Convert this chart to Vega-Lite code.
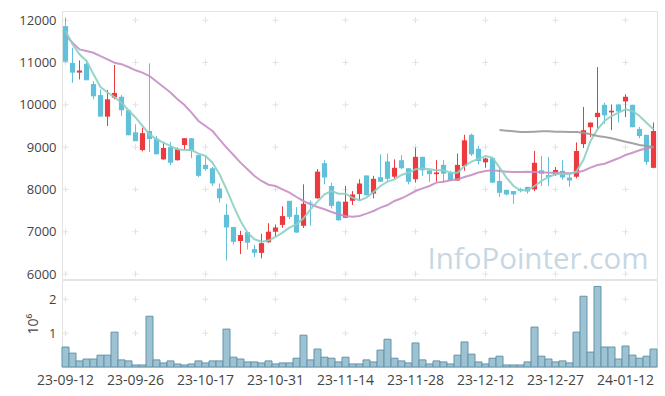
{
  "$schema": "https://vega.github.io/schema/vega-lite/v6.json",
  "padding": {"left": 18, "top": 10, "right": 9, "bottom": 5},
  "bounds": "flush",
  "config": {
    "font": "Open Sans",
    "view": {"stroke": "#e3e3e3"},
    "axis": {"labelColor": "#444", "labelFontSize": 13, "ticks": false, "domain": false, "grid": false, "titleColor": "#444"}
  },
  "datasets": {
    "stock": [
      {"date":"23-09-12","open":11860,"high":12060,"low":11000,"close":11020,"volume":590000,"ma5":11745,"ma20":11650,"ma60":null},
      {"date":"23-09-13","open":10990,"high":11350,"low":10520,"close":10760,"volume":410000,"ma5":11430,"ma20":11470,"ma60":null},
      {"date":"23-09-14","open":10760,"high":11050,"low":10600,"close":10810,"volume":180000,"ma5":11195,"ma20":11310,"ma60":null},
      {"date":"23-09-15","open":10970,"high":11060,"low":10580,"close":10580,"volume":235000,"ma5":11036,"ma20":11270,"ma60":null},
      {"date":"23-09-18","open":10490,"high":10560,"low":10130,"close":10200,"volume":235000,"ma5":10720,"ma20":11230,"ma60":null},
      {"date":"23-09-19","open":10230,"high":10360,"low":9720,"close":9720,"volume":350000,"ma5":10420,"ma20":11150,"ma60":null},
      {"date":"23-09-20","open":9720,"high":10350,"low":9500,"close":10130,"volume":350000,"ma5":10290,"ma20":11075,"ma60":null},
      {"date":"23-09-21","open":10170,"high":10940,"low":10130,"close":10280,"volume":1030000,"ma5":10185,"ma20":10995,"ma60":null},
      {"date":"23-09-22","open":10190,"high":10230,"low":9740,"close":9870,"volume":210000,"ma5":10050,"ma20":10960,"ma60":null},
      {"date":"23-09-25","open":9870,"high":9880,"low":9280,"close":9280,"volume":180000,"ma5":9870,"ma20":10893,"ma60":null},
      {"date":"23-09-26","open":9350,"high":9540,"low":9140,"close":9140,"volume":60000,"ma5":9700,"ma20":10815,"ma60":null},
      {"date":"23-09-27","open":8930,"high":9460,"low":8900,"close":9330,"volume":60000,"ma5":9500,"ma20":10760,"ma60":null},
      {"date":"23-10-04","open":9380,"high":10980,"low":8880,"close":9190,"volume":1500000,"ma5":9300,"ma20":10680,"ma60":null},
      {"date":"23-10-05","open":9200,"high":9260,"low":8830,"close":8830,"volume":210000,"ma5":9185,"ma20":10550,"ma60":null},
      {"date":"23-10-06","open":8710,"high":9100,"low":8700,"close":8980,"volume":120000,"ma5":9105,"ma20":10420,"ma60":null},
      {"date":"23-10-10","open":9000,"high":9120,"low":8570,"close":8630,"volume":180000,"ma5":9025,"ma20":10290,"ma60":null},
      {"date":"23-10-11","open":8690,"high":8990,"low":8680,"close":8950,"volume":90000,"ma5":8950,"ma20":10130,"ma60":null},
      {"date":"23-10-12","open":9050,"high":9210,"low":8950,"close":9210,"volume":60000,"ma5":8930,"ma20":9995,"ma60":null},
      {"date":"23-10-13","open":9210,"high":9210,"low":8740,"close":8910,"volume":90000,"ma5":8930,"ma20":9814,"ma60":null},
      {"date":"23-10-16","open":8810,"high":8830,"low":8290,"close":8320,"volume":180000,"ma5":8845,"ma20":9617,"ma60":null},
      {"date":"23-10-17","open":8580,"high":8800,"low":8440,"close":8480,"volume":120000,"ma5":8790,"ma20":9500,"ma60":null},
      {"date":"23-10-18","open":8500,"high":8530,"low":8080,"close":8140,"volume":180000,"ma5":8632,"ma20":9380,"ma60":null},
      {"date":"23-10-19","open":8020,"high":8140,"low":7690,"close":7790,"volume":180000,"ma5":8357,"ma20":9184,"ma60":null},
      {"date":"23-10-20","open":7400,"high":7660,"low":6320,"close":7100,"volume":1120000,"ma5":8000,"ma20":8986,"ma60":null},
      {"date":"23-10-23","open":7110,"high":7120,"low":6700,"close":6760,"volume":290000,"ma5":7610,"ma20":8813,"ma60":null},
      {"date":"23-10-24","open":6780,"high":7020,"low":6470,"close":6920,"volume":235000,"ma5":7253,"ma20":8632,"ma60":null},
      {"date":"23-10-25","open":6990,"high":7000,"low":6580,"close":6740,"volume":150000,"ma5":6977,"ma20":8475,"ma60":null},
      {"date":"23-10-26","open":6590,"high":6690,"low":6400,"close":6500,"volume":150000,"ma5":6820,"ma20":8317,"ma60":null},
      {"date":"23-10-27","open":6500,"high":6950,"low":6370,"close":6730,"volume":120000,"ma5":6763,"ma20":8199,"ma60":null},
      {"date":"23-10-30","open":6750,"high":7200,"low":6740,"close":7000,"volume":180000,"ma5":6790,"ma20":8110,"ma60":null},
      {"date":"23-10-31","open":7000,"high":7170,"low":6880,"close":7100,"volume":90000,"ma5":6875,"ma20":8080,"ma60":null},
      {"date":"23-11-01","open":7160,"high":7600,"low":7090,"close":7370,"volume":120000,"ma5":6977,"ma20":8000,"ma60":null},
      {"date":"23-11-02","open":7730,"high":7730,"low":7300,"close":7350,"volume":120000,"ma5":7095,"ma20":7925,"ma60":null},
      {"date":"23-11-03","open":7400,"high":7580,"low":6970,"close":6980,"volume":260000,"ma5":7174,"ma20":7820,"ma60":null},
      {"date":"23-11-06","open":7140,"high":8120,"low":7090,"close":7660,"volume":940000,"ma5":7316,"ma20":7726,"ma60":null},
      {"date":"23-11-07","open":7690,"high":7740,"low":7140,"close":7670,"volume":210000,"ma5":7530,"ma20":7648,"ma60":null},
      {"date":"23-11-08","open":7790,"high":8480,"low":7780,"close":8420,"volume":530000,"ma5":7710,"ma20":7584,"ma60":null},
      {"date":"23-11-09","open":8620,"high":8690,"low":8120,"close":8280,"volume":290000,"ma5":7884,"ma20":7530,"ma60":null},
      {"date":"23-11-10","open":8080,"high":8160,"low":7550,"close":7610,"volume":260000,"ma5":7962,"ma20":7466,"ma60":null},
      {"date":"23-11-13","open":7710,"high":7730,"low":7260,"close":7270,"volume":150000,"ma5":7900,"ma20":7411,"ma60":null},
      {"date":"23-11-14","open":7330,"high":8080,"low":7320,"close":7710,"volume":290000,"ma5":7900,"ma20":7371,"ma60":null},
      {"date":"23-11-15","open":7730,"high":7960,"low":7630,"close":7880,"volume":90000,"ma5":7805,"ma20":7355,"ma60":null},
      {"date":"23-11-16","open":7890,"high":8240,"low":7740,"close":8140,"volume":90000,"ma5":7742,"ma20":7371,"ma60":null},
      {"date":"23-11-17","open":8330,"high":8330,"low":7860,"close":7860,"volume":210000,"ma5":7805,"ma20":7426,"ma60":null},
      {"date":"23-11-20","open":7900,"high":8320,"low":7790,"close":8250,"volume":150000,"ma5":7940,"ma20":7490,"ma60":null},
      {"date":"23-11-21","open":8290,"high":8830,"low":8180,"close":8180,"volume":500000,"ma5":8080,"ma20":7568,"ma60":null},
      {"date":"23-11-22","open":8660,"high":8850,"low":8200,"close":8250,"volume":820000,"ma5":8183,"ma20":7631,"ma60":null},
      {"date":"23-11-23","open":8300,"high":8710,"low":8250,"close":8510,"volume":260000,"ma5":8238,"ma20":7726,"ma60":null},
      {"date":"23-11-24","open":8690,"high":8810,"low":8480,"close":8500,"volume":180000,"ma5":8340,"ma20":7790,"ma60":null},
      {"date":"23-11-27","open":8500,"high":8500,"low":8120,"close":8180,"volume":120000,"ma5":8395,"ma20":7868,"ma60":null},
      {"date":"23-11-28","open":8240,"high":8990,"low":8160,"close":8770,"volume":710000,"ma5":8475,"ma20":7962,"ma60":null},
      {"date":"23-11-29","open":8770,"high":8770,"low":8320,"close":8450,"volume":210000,"ma5":8498,"ma20":8025,"ma60":null},
      {"date":"23-11-30","open":8450,"high":8450,"low":8180,"close":8360,"volume":90000,"ma5":8475,"ma20":8080,"ma60":null},
      {"date":"23-12-01","open":8360,"high":8690,"low":8180,"close":8400,"volume":180000,"ma5":8451,"ma20":8160,"ma60":null},
      {"date":"23-12-04","open":8580,"high":8690,"low":8160,"close":8370,"volume":150000,"ma5":8451,"ma20":8183,"ma60":null},
      {"date":"23-12-05","open":8400,"high":8440,"low":8210,"close":8210,"volume":90000,"ma5":8395,"ma20":8215,"ma60":null},
      {"date":"23-12-06","open":8210,"high":8850,"low":8200,"close":8580,"volume":350000,"ma5":8395,"ma20":8238,"ma60":null},
      {"date":"23-12-07","open":8550,"high":9290,"low":8440,"close":9160,"volume":740000,"ma5":8553,"ma20":8293,"ma60":null},
      {"date":"23-12-08","open":9290,"high":9320,"low":8790,"close":8830,"volume":380000,"ma5":8655,"ma20":8340,"ma60":null},
      {"date":"23-12-11","open":8960,"high":9030,"low":8590,"close":8670,"volume":150000,"ma5":8720,"ma20":8400,"ma60":null},
      {"date":"23-12-12","open":8640,"high":8750,"low":8510,"close":8730,"volume":90000,"ma5":8790,"ma20":8435,"ma60":null},
      {"date":"23-12-13","open":8740,"high":8740,"low":8150,"close":8160,"volume":260000,"ma5":8750,"ma20":8451,"ma60":null},
      {"date":"23-12-14","open":8200,"high":8500,"low":7820,"close":7920,"volume":320000,"ma5":8514,"ma20":8435,"ma60":9404},
      {"date":"23-12-15","open":7990,"high":7990,"low":7860,"close":7880,"volume":60000,"ma5":8278,"ma20":8419,"ma60":9388},
      {"date":"23-12-18","open":7960,"high":7960,"low":7660,"close":7880,"volume":60000,"ma5":8080,"ma20":8411,"ma60":9372},
      {"date":"23-12-19","open":8010,"high":8040,"low":7930,"close":7960,"volume":60000,"ma5":7978,"ma20":8411,"ma60":9357},
      {"date":"23-12-20","open":8060,"high":8060,"low":7900,"close":7950,"volume":150000,"ma5":7978,"ma20":8419,"ma60":9357},
      {"date":"23-12-21","open":8000,"high":8910,"low":7960,"close":8630,"volume":1180000,"ma5":8080,"ma20":8411,"ma60":9365},
      {"date":"23-12-22","open":8450,"high":8790,"low":8080,"close":8370,"volume":320000,"ma5":8199,"ma20":8404,"ma60":9372},
      {"date":"23-12-26","open":8340,"high":8770,"low":8080,"close":8290,"volume":235000,"ma5":8293,"ma20":8395,"ma60":9372},
      {"date":"23-12-27","open":8360,"high":8530,"low":8320,"close":8460,"volume":150000,"ma5":8357,"ma20":8395,"ma60":9365},
      {"date":"23-12-28","open":8440,"high":8690,"low":8230,"close":8280,"volume":180000,"ma5":8372,"ma20":8388,"ma60":9365},
      {"date":"24-01-02","open":8280,"high":8370,"low":8060,"close":8210,"volume":120000,"ma5":8357,"ma20":8380,"ma60":9357},
      {"date":"24-01-03","open":8300,"high":9110,"low":8260,"close":8910,"volume":1030000,"ma5":8430,"ma20":8400,"ma60":9357},
      {"date":"24-01-04","open":9070,"high":9950,"low":8980,"close":9400,"volume":2090000,"ma5":8700,"ma20":8440,"ma60":9340},
      {"date":"24-01-05","open":9470,"high":9580,"low":9240,"close":9580,"volume":440000,"ma5":9144,"ma20":8514,"ma60":9302},
      {"date":"24-01-08","open":9710,"high":10890,"low":9400,"close":9810,"volume":2380000,"ma5":9420,"ma20":8577,"ma60":9262},
      {"date":"24-01-09","open":10000,"high":10050,"low":9550,"close":9750,"volume":590000,"ma5":9617,"ma20":8608,"ma60":9238},
      {"date":"24-01-10","open":9820,"high":10010,"low":9400,"close":9860,"volume":590000,"ma5":9735,"ma20":8672,"ma60":9207},
      {"date":"24-01-11","open":10010,"high":10010,"low":9580,"close":9840,"volume":235000,"ma5":9814,"ma20":8735,"ma60":9167},
      {"date":"24-01-12","open":10080,"high":10250,"low":9710,"close":10190,"volume":620000,"ma5":9893,"ma20":8813,"ma60":9128},
      {"date":"24-01-15","open":10000,"high":10000,"low":9470,"close":9470,"volume":350000,"ma5":9853,"ma20":8868,"ma60":9089},
      {"date":"24-01-16","open":9430,"high":9480,"low":9210,"close":9260,"volume":260000,"ma5":9735,"ma20":8924,"ma60":9050},
      {"date":"24-01-17","open":9290,"high":9290,"low":8580,"close":8650,"volume":320000,"ma5":9577,"ma20":8971,"ma60":9026},
      {"date":"24-01-18","open":8510,"high":9580,"low":8500,"close":9380,"volume":530000,"ma5":9420,"ma20":9002,"ma60":9002}
    ],
    "pgrid": [{"gx": ["23-09-12","23-09-26","23-10-17","23-10-31","23-11-14","23-11-28","23-12-12","23-12-27","24-01-12"], "gy": [6000,7000,8000,9000,10000,11000,12000]}],
    "vgrid": [{"gx": ["23-09-12","23-09-26","23-10-17","23-10-31","23-11-14","23-11-28","23-12-12","23-12-27","24-01-12"], "gy": [1000000,2000000]}]
  },
  "spacing": 1,
  "vconcat": [
    {
      "width": 595,
      "height": 268,
      "layer": [
        {
          "data": {"name": "pgrid"},
          "transform": [{"flatten": ["gx"]}, {"flatten": ["gy"]}],
          "mark": {"type": "point", "shape": "M-1,0H1M0,-1V1", "size": 36, "filled": false, "stroke": "#e2e2e2", "strokeWidth": 1, "opacity": 1},
          "encoding": {
            "x": {"field": "gx", "type": "ordinal", "scale": {"type": "band", "paddingInner": 0, "paddingOuter": 0}, "axis": null},
            "y": {"field": "gy", "type": "quantitative", "scale": {"domain": [5882, 12217], "nice": false, "zero": false}, "axis": {"values": [6000,7000,8000,9000,10000,11000,12000], "format": "d", "title": null, "labelPadding": 6}}
          }
        },
        {
          "data": {"name": "stock"},
          "mark": {"type": "rule", "strokeWidth": 1},
          "encoding": {
            "x": {"field": "date", "type": "ordinal"},
            "y": {"field": "low", "type": "quantitative"},
            "y2": {"field": "high"},
            "color": {"condition": {"test": "datum.close >= datum.open", "value": "#ec3a3f"}, "value": "#62c1d9"}
          }
        },
        {
          "data": {"name": "stock"},
          "mark": {"type": "bar", "width": {"band": 0.74}},
          "encoding": {
            "x": {"field": "date", "type": "ordinal"},
            "y": {"field": "open", "type": "quantitative"},
            "y2": {"field": "close"},
            "color": {"condition": {"test": "datum.close >= datum.open", "value": "#ec3a3f"}, "value": "#62c1d9"}
          }
        },
        {
          "data": {"name": "stock"},
          "mark": {"type": "line", "color": "#c88ec6", "strokeWidth": 2, "opacity": 0.9},
          "encoding": {"x": {"field": "date", "type": "ordinal"}, "y": {"field": "ma20", "type": "quantitative"}}
        },
        {
          "data": {"name": "stock"},
          "mark": {"type": "line", "color": "#8dcfc2", "strokeWidth": 2, "opacity": 0.9},
          "encoding": {"x": {"field": "date", "type": "ordinal"}, "y": {"field": "ma5", "type": "quantitative"}}
        },
        {
          "data": {"name": "stock"},
          "mark": {"type": "line", "color": "#9a9a9a", "strokeWidth": 2, "opacity": 0.9},
          "encoding": {"x": {"field": "date", "type": "ordinal"}, "y": {"field": "ma60", "type": "quantitative"}}
        },
        {
          "data": {"values": [{"wm": "InfoPointer.com"}]},
          "mark": {"type": "text", "fontSize": 29.5, "color": "#c6d7e3", "align": "right", "baseline": "alphabetic", "dx": 2},
          "encoding": {
            "x": {"datum": "24-01-17", "type": "ordinal"},
            "y": {"datum": 6120, "type": "quantitative"},
            "text": {"field": "wm"}
          }
        }
      ]
    },
    {
      "width": 595,
      "height": 87,
      "layer": [
        {
          "data": {"name": "vgrid"},
          "transform": [{"flatten": ["gx"]}, {"flatten": ["gy"]}],
          "mark": {"type": "point", "shape": "M-1,0H1M0,-1V1", "size": 36, "filled": false, "stroke": "#e2e2e2", "strokeWidth": 1, "opacity": 1},
          "encoding": {
            "x": {"field": "gx", "type": "ordinal", "scale": {"type": "band", "paddingInner": 0, "paddingOuter": 0}, "axis": {"values": ["23-09-12","23-09-26","23-10-17","23-10-31","23-11-14","23-11-28","23-12-12","23-12-27","24-01-12"], "labelAngle": 0, "title": null, "labelFontSize": 14, "labelPadding": 6}},
            "y": {"field": "gy", "type": "quantitative", "scale": {"domain": [0, 2570000], "nice": false}, "axis": {"values": [1000000, 2000000], "labelExpr": "datum.value / 1000000", "title": "10⁶", "titleFontSize": 14, "titleFontWeight": "normal", "titlePadding": 8, "labelPadding": 6}}
          }
        },
        {
          "data": {"name": "stock"},
          "mark": {"type": "bar", "fill": "#9dc3d3", "stroke": "#6593ab", "strokeWidth": 1},
          "encoding": {
            "x": {"field": "date", "type": "ordinal"},
            "y": {"field": "volume", "type": "quantitative"}
          }
        }
      ]
    }
  ]
}
